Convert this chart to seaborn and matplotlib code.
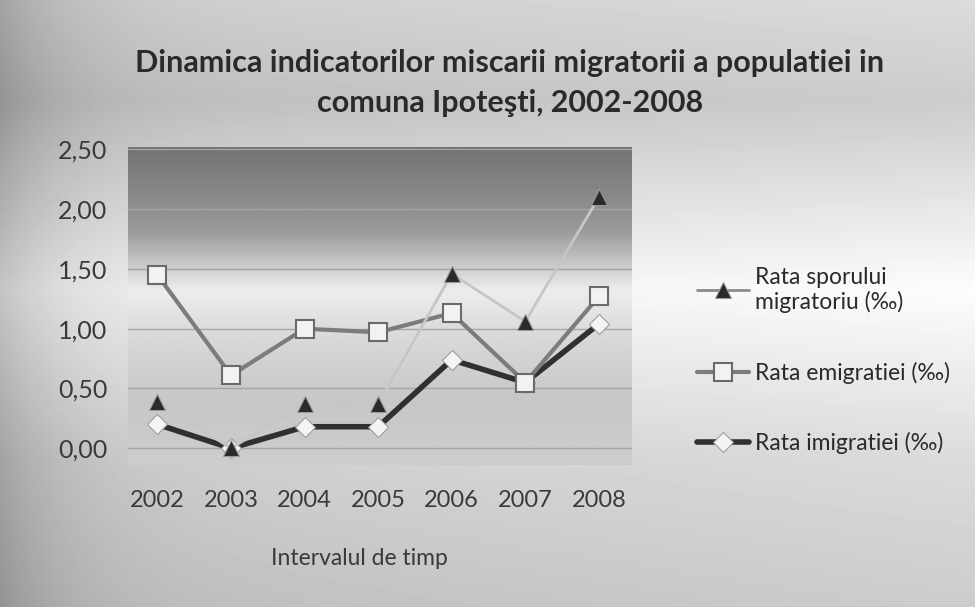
import numpy as np
import pandas as pd
import seaborn as sns
import matplotlib.pyplot as plt
from matplotlib.ticker import FuncFormatter

plt.switch_backend('Agg')

# data
years = [2002, 2003, 2004, 2005, 2006, 2007, 2008]
rata_spor = [0.39, 0.00, 0.37, 0.37, 1.46, 1.06, 2.10]
rata_emig = [1.45, 0.61, 1.00, 0.97, 1.13, 0.55, 1.27]
rata_imig = [0.20, 0.00, 0.18, 0.18, 0.74, 0.55, 1.04]

labels = ['Rata sporului\nmigratoriu (‰)', 'Rata emigratiei (‰)', 'Rata imigratiei (‰)']
title = 'Dinamica indicatorilor miscarii migratorii a populatiei in\ncomuna Ipoteşti, 2002-2008'

df = pd.DataFrame({'an': years, 'spor': rata_spor, 'emig': rata_emig, 'imig': rata_imig})

sns.set_theme(style='white')
plt.rcParams['font.family'] = ['Lato', 'DejaVu Sans']

W, H = 975, 607
fig = plt.figure(figsize=(W / 100, H / 100), dpi=100)

# scanned-paper look: grey gradient behind everything
bg = fig.add_axes([0, 0, 1, 1], zorder=-5)
yy = np.linspace(0, H, 200)[:, None]
xx = np.linspace(0, W, 300)[None, :]
vprof = np.interp(yy, [0, 100, 290, 330, 460, 607], [0.80, 0.74, 0.93, 0.90, 0.80, 0.74])
shade = vprof - 0.16 * np.exp(-xx / 70) + 0.06 * (xx / W)
bg.imshow(np.clip(shade, 0, 1), cmap='gray', vmin=0, vmax=1, aspect='auto',
          extent=[0, 1, 0, 1], origin='upper')
bg.axis('off')

ax = fig.add_axes([128 / W, 1 - 465 / H, (632 - 128) / W, (465 - 147) / H])

# plot-area gradient (dark at the top, bright band in the middle)
py = np.linspace(147, 465, 200)[:, None]
pshade = np.interp(py, [147, 230, 290, 330, 400, 465], [0.45, 0.60, 0.93, 0.86, 0.78, 0.80])
ax.imshow(pshade * np.ones((1, 10)), cmap='gray', vmin=0, vmax=1, aspect='auto',
          extent=[2001.6, 2008.45, -0.14, 2.52], origin='upper', zorder=0)

sns.lineplot(data=df, x='an', y='spor', ax=ax, color='#c6c6c6', lw=2,
             marker='^', markersize=11, markerfacecolor='#2a2a2a',
             markeredgecolor='#9a9a9a', label=labels[0], zorder=6)
sns.lineplot(data=df, x='an', y='emig', ax=ax, color='#7c7c7c', lw=3,
             marker='s', markersize=13, markerfacecolor='#f2f2f2',
             markeredgecolor='#6a6a6a', markeredgewidth=1.5, label=labels[1], zorder=5)
sns.lineplot(data=df, x='an', y='imig', ax=ax, color='#303030', lw=4,
             marker='D', markersize=10, markerfacecolor='#f4f4f4',
             markeredgecolor='#9a9a9a', label=labels[2], zorder=4)

ax.set_xlim(2001.6, 2008.45)
ax.set_ylim(-0.14, 2.52)
ax.set_yticks([0, 0.5, 1.0, 1.5, 2.0, 2.5])
ax.yaxis.set_major_formatter(FuncFormatter(lambda v, p: f'{v:.2f}'.replace('.', ',')))
ax.set_xticks(years)
ax.yaxis.grid(True, color='#a5a5a5', lw=1, zorder=1)
ax.set_axisbelow(True)
for s in ax.spines.values():
    s.set_visible(False)
ax.tick_params(axis='y', length=0, pad=15, labelsize=18, labelcolor='#3a3a3a')
ax.tick_params(axis='x', length=0, pad=18, labelsize=17, labelcolor='#3a3a3a')
ax.set_xlabel('Intervalul de timp', fontsize=16.5, color='#3a3a3a', labelpad=24)
ax.xaxis.set_label_coords(0.46, -0.26)
ax.set_ylabel('')

fig.text(0.523, 1 - 83 / H, title, ha='center', va='center', fontsize=22,
         fontweight='bold', color='#2a2a2a', linespacing=1.55)

leg = ax.legend(loc='upper left', bbox_to_anchor=(676 / W, 1 - 246 / H),
                bbox_transform=fig.transFigure, frameon=False, fontsize=16.5,
                labelspacing=2.1, handlelength=2.3, handletextpad=0.25)
for t in leg.get_texts():
    t.set_color('#2a2a2a')
leg.get_lines()[0].set_color('#8a8a8a')

fig.savefig('out.png', dpi=100)
